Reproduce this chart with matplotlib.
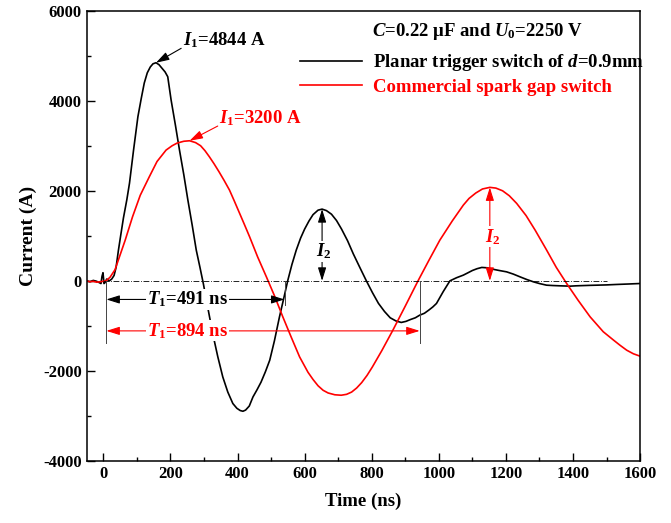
import matplotlib
matplotlib.use('Agg')
import matplotlib.pyplot as plt
from matplotlib.ticker import MultipleLocator

plt.rcParams['font.family'] = ['Liberation Serif', 'DejaVu Serif']
plt.rcParams['font.weight'] = 'bold'
plt.rcParams['mathtext.fontset'] = 'custom'
plt.rcParams['mathtext.rm'] = 'Liberation Serif:bold'
plt.rcParams['mathtext.it'] = 'Liberation Serif:bold:italic'
plt.rcParams['mathtext.bf'] = 'Liberation Serif:bold'
plt.rcParams['axes.unicode_minus'] = False

# planar trigger switch (black)
planar_t = [-50, -40, -30, -20, -12, -7, -4, -1, 2, 5, 10, 18, 25, 32, 38, 45, 52, 60, 70, 78, 90,
            103, 113, 122, 131, 140, 148, 157, 166, 175, 184, 192, 202, 215, 227, 240, 252, 265,
            277, 288, 298, 312, 326, 341, 356, 371, 386, 398, 408, 416, 424, 435, 446, 458, 470,
            483, 496, 510, 525, 538, 550, 562, 575, 588, 600, 613, 625, 640, 652, 665, 680, 695,
            710, 728, 745, 765, 784, 802, 820, 838, 855, 872, 888, 902, 915, 930, 943, 957, 970,
            982, 993, 1013, 1033, 1053, 1073, 1087, 1100, 1114, 1128, 1144, 1160, 1180, 1202,
            1222, 1242, 1262, 1282, 1300, 1321, 1340, 1360, 1376, 1391, 1410, 1430, 1450, 1471,
            1500, 1530, 1565, 1600]
planar_i = [0, -20, 10, -10, -40, -60, 100, 180, -60, -40, 40, 0, 40, 120, 300, 680, 1020, 1400,
            1800, 2170, 2900, 3644, 4050, 4393, 4620, 4750, 4820, 4844, 4800, 4720, 4640, 4533,
            4016, 3450, 2904, 2350, 1793, 1230, 682, 300, -59, -620, -1170, -1680, -2133, -2470,
            -2724, -2830, -2880, -2896, -2870, -2780, -2578, -2420, -2250, -2020, -1762, -1330,
            -800, -380, 15, 360, 682, 950, 1150, 1330, 1470, 1570, 1593, 1560, 1480, 1340, 1150,
            890, 600, 290, 0, -260, -500, -680, -820, -890, -924, -900, -860, -820, -762, -720,
            -650, -580, -502, -240, 0, 70, 127, 180, 230, 270, 298, 290, 260, 230, 200, 150, 89,
            30, -22, -60, -96, -104, -110, -114, -118, -110, -105, -100, -96, -90, -80, -70, -59]

# commercial spark gap switch (red)
spark_t = [-50, -40, -30, -20, -10, 0, 8, 20, 35, 48, 65, 87, 110, 137, 160, 187, 205, 220, 240,
           257, 275, 290, 303, 316, 330, 345, 360, 376, 390, 405, 420, 436, 460, 486, 510, 535,
           560, 585, 610, 625, 640, 655, 670, 690, 709, 725, 740, 755, 770, 786, 802, 830, 863,
           900, 938, 970, 1003, 1040, 1073, 1090, 1110, 1130, 1152, 1170, 1190, 1210, 1232,
           1260, 1287, 1320, 1350, 1381, 1415, 1451, 1490, 1521, 1540, 1560, 1580, 1600]
spark_i = [0, -20, -10, -30, -20, -10, 0, 80, 250, 533, 900, 1422, 1900, 2311, 2650, 2904, 3000,
           3060, 3100, 3111, 3070, 3000, 2890, 2756, 2600, 2420, 2230, 2016, 1780, 1520, 1260,
           978, 530, 89, -330, -800, -1250, -1689, -2030, -2190, -2330, -2430, -2490, -2530,
           -2540, -2520, -2470, -2380, -2260, -2100, -1911, -1550, -1096, -560, 0, 450, 904,
           1330, 1682, 1830, 1950, 2040, 2076, 2060, 2000, 1890, 1720, 1450, 1127, 700, 300, -59,
           -430, -800, -1130, -1318, -1430, -1540, -1620, -1673]

planar_peak = (157, 4844)
spark_peak = (257, 3111)
planar_i2 = (652, 1593)
spark_i2 = (1152, 2076)
t_start = 9
planar_t_end = 540
spark_t_end = 943

fig = plt.figure(figsize=(6.71, 5.23), dpi=100)
ax = fig.add_axes([0.129, 0.1186, 0.825, 0.861])

ax.plot(planar_t, planar_i, color='black', lw=1.2, label='Planar trigger switch of $d$=0.9mm')
ax.plot(spark_t, spark_i, color='red', lw=1.2, label='Commercial spark gap switch')
ax.plot([0, 1500], [0, 0], color='black', lw=0.6, linestyle=(0, (7, 2, 1, 2)))

arrow_kw = dict(shrinkA=0, shrinkB=0, lw=0.8, mutation_scale=10)
one_head = '-|>,head_length=0.8,head_width=0.25'
two_head = '<|-|>,head_length=0.8,head_width=0.25'
fs = 13.5

# I1 labels
ax.annotate('', xy=planar_peak, xytext=(232, 5164),
            arrowprops=dict(arrowstyle=one_head, color='black', **arrow_kw))
ax.text(238, 5350, '$I_1$=4844 A', fontsize=fs, ha='left', va='center', color='black')
ax.annotate('', xy=spark_peak, xytext=(341, 3438),
            arrowprops=dict(arrowstyle=one_head, color='red', **arrow_kw))
ax.text(345, 3620, '$I_1$=3200 A', fontsize=fs, ha='left', va='center', color='red')

# T1 markers
ax.plot([t_start, t_start], [0, -1370], color='#444444', lw=0.7)
ax.plot([planar_t_end, planar_t_end], [0, -540], color='#444444', lw=0.7)
ax.plot([spark_t_end, spark_t_end], [0, -1370], color='#444444', lw=0.7)
ax.annotate('', xy=(t_start, -413), xytext=(planar_t_end, -413),
            arrowprops=dict(arrowstyle=two_head, color='black', **arrow_kw))
ax.text(250, -413, '$T_1$=491 ns', fontsize=fs, ha='center', va='center', color='black',
        bbox=dict(fc='white', ec='none', pad=0.5))
ax.annotate('', xy=(t_start, -1111), xytext=(spark_t_end, -1111),
            arrowprops=dict(arrowstyle=two_head, color='red', **arrow_kw))
ax.text(250, -1111, '$T_1$=894 ns', fontsize=fs, ha='center', va='center', color='red',
        bbox=dict(fc='white', ec='none', pad=0.5))

# I2 markers
ax.annotate('', xy=planar_i2, xytext=(planar_i2[0], 0),
            arrowprops=dict(arrowstyle=two_head, color='black', **arrow_kw))
ax.text(planar_i2[0] + 5, 650, '$I_2$', fontsize=fs, ha='center', va='center', color='black',
        bbox=dict(fc='white', ec='none', pad=0.5))
ax.annotate('', xy=spark_i2, xytext=(spark_i2[0], 0),
            arrowprops=dict(arrowstyle=two_head, color='red', **arrow_kw))
ax.text(spark_i2[0] + 8, 980, '$I_2$', fontsize=fs, ha='center', va='center', color='red',
        bbox=dict(fc='white', ec='none', pad=0.5))

ax.text(0.516, 0.953, '$C$=0.22 μF and $U_0$=2250 V', transform=ax.transAxes,
        fontsize=fs, ha='left', va='center')
leg = ax.legend(loc='upper left', bbox_to_anchor=(0.3855, 0.908), frameon=False, fontsize=fs,
                handlelength=3.3, handletextpad=0.6, labelspacing=0.3, borderaxespad=0, borderpad=0)
leg.get_texts()[1].set_color('red')

ax.set_xlim(-50, 1600)
ax.set_ylim(-4000, 6000)
ax.xaxis.set_major_locator(MultipleLocator(200))
ax.xaxis.set_minor_locator(MultipleLocator(100))
ax.yaxis.set_major_locator(MultipleLocator(2000))
ax.yaxis.set_minor_locator(MultipleLocator(1000))
ax.tick_params(which='both', direction='in', labelsize=12, width=1)
ax.tick_params(which='major', length=6)
ax.tick_params(which='minor', length=3)
for s in ax.spines.values():
    s.set_linewidth(1.1)

ax.set_xlabel('Time (ns)', fontsize=13.5, fontweight='bold', labelpad=8)
ax.set_ylabel('Current (A)', fontsize=14, fontweight='bold', labelpad=4)

fig.savefig('out.png', dpi=100)
